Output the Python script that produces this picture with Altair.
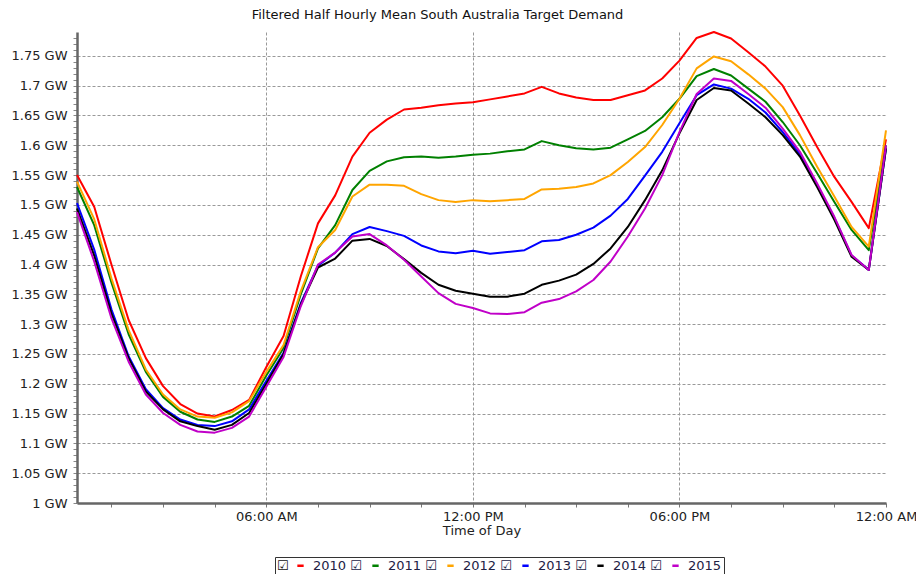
import altair as alt
import pandas as pd

TITLE = "Filtered Half Hourly Mean South Australia Target Demand"
X_TITLE = "Time of Day"
YEARS = ["2010", "2011", "2012", "2013", "2014", "2015"]
COLORS = ["#ff0000", "#008000", "#ffa500", "#0000ff", "#000000", "#c000c8"]

# half-hour slots, hours after midnight (00:30 ... 24:00)
HOURS = [0.5 * i for i in range(1, 49)]

D2010 = [1.550, 1.497, 1.400, 1.307, 1.243, 1.196, 1.166, 1.150, 1.145, 1.156, 1.173, 1.228,
         1.280, 1.380, 1.469, 1.516, 1.581, 1.621, 1.643, 1.660, 1.663, 1.667, 1.670, 1.672,
         1.677, 1.682, 1.687, 1.698, 1.687, 1.680, 1.676, 1.676, 1.684, 1.692, 1.712, 1.742,
         1.780, 1.790, 1.779, 1.756, 1.732, 1.700, 1.650, 1.597, 1.547, 1.505, 1.461, 1.610]
D2011 = [1.530, 1.466, 1.370, 1.283, 1.220, 1.178, 1.153, 1.140, 1.136, 1.145, 1.163, 1.214,
         1.260, 1.350, 1.427, 1.466, 1.525, 1.557, 1.573, 1.580, 1.581, 1.579, 1.581, 1.584,
         1.586, 1.590, 1.593, 1.607, 1.600, 1.595, 1.593, 1.596, 1.610, 1.624, 1.647, 1.678,
         1.716, 1.728, 1.717, 1.695, 1.673, 1.639, 1.600, 1.553, 1.505, 1.458, 1.424, 1.600]
D2012 = [1.539, 1.476, 1.377, 1.290, 1.224, 1.182, 1.157, 1.145, 1.143, 1.152, 1.171, 1.220,
         1.265, 1.355, 1.429, 1.458, 1.514, 1.534, 1.534, 1.532, 1.518, 1.508, 1.505, 1.508,
         1.506, 1.508, 1.510, 1.526, 1.527, 1.530, 1.536, 1.550, 1.572, 1.597, 1.634, 1.678,
         1.729, 1.749, 1.741, 1.719, 1.695, 1.664, 1.617, 1.564, 1.514, 1.463, 1.430, 1.625]
D2013 = [1.503, 1.425, 1.325, 1.246, 1.191, 1.159, 1.140, 1.131, 1.129, 1.137, 1.157, 1.205,
         1.252, 1.335, 1.398, 1.420, 1.451, 1.463, 1.456, 1.448, 1.432, 1.422, 1.419, 1.423,
         1.418, 1.421, 1.424, 1.439, 1.441, 1.450, 1.462, 1.482, 1.510, 1.549, 1.589, 1.637,
         1.684, 1.702, 1.695, 1.678, 1.655, 1.622, 1.585, 1.533, 1.478, 1.415, 1.391, 1.595]
D2014 = [1.494, 1.415, 1.318, 1.243, 1.187, 1.157, 1.137, 1.129, 1.123, 1.131, 1.151, 1.200,
         1.250, 1.333, 1.395, 1.410, 1.440, 1.443, 1.431, 1.409, 1.386, 1.366, 1.356, 1.351,
         1.346, 1.346, 1.351, 1.366, 1.373, 1.383, 1.401, 1.427, 1.463, 1.508, 1.558, 1.620,
         1.676, 1.696, 1.692, 1.670, 1.647, 1.617, 1.581, 1.530, 1.475, 1.413, 1.391, 1.595]
D2015 = [1.488, 1.405, 1.310, 1.237, 1.182, 1.151, 1.131, 1.120, 1.118, 1.126, 1.145, 1.195,
         1.245, 1.330, 1.400, 1.420, 1.447, 1.451, 1.432, 1.408, 1.380, 1.352, 1.334, 1.327,
         1.318, 1.317, 1.320, 1.336, 1.342, 1.355, 1.374, 1.405, 1.447, 1.494, 1.550, 1.622,
         1.686, 1.712, 1.708, 1.686, 1.663, 1.628, 1.589, 1.536, 1.480, 1.416, 1.391, 1.600]
SERIES = [D2010, D2011, D2012, D2013, D2014, D2015]

X_TICKS = [1.5 * i for i in range(1, 17)]          # every 1.5 h, labelled every 6 h
X_LABELS = {6: "06:00 AM", 12: "12:00 PM", 18: "06:00 PM", 24: "12:00 AM"}
Y_TICKS = [round(1 + 0.01 * i, 2) for i in range(0, 79)]  # minor every 0.01, major every 0.05

rows = []
for yr, vals in zip(YEARS, SERIES):
    for h, v in zip(HOURS, vals):
        rows.append({"hour": h, "demand": v, "year": yr})
df = pd.DataFrame(rows)

FONT = "DejaVu Sans"
x_label_expr = " : ".join(f"datum.value == {k} ? '{v}'" for k, v in X_LABELS.items()) + " : ''"
y_major = "abs(datum.value * 20 - round(datum.value * 20)) < 0.000001"
y_label_expr = f"{y_major} ? format(datum.value, '.2~f') + ' GW' : ''"
x_grid_test = "datum.value % 6 == 0 && datum.value < 24"

x_axis = alt.Axis(
    values=X_TICKS, labelExpr=x_label_expr, title=X_TITLE,
    grid=True, gridColor="#999999", gridDash=[3, 2], gridWidth=1,
    gridOpacity={"condition": {"test": x_grid_test, "value": 1}, "value": 0},
    tickSize=4, tickColor="#777777", domainColor="#666666", domainWidth=2.5,
    labelFont=FONT, labelFontSize=13, labelColor="#222222", labelPadding=3,
    labelOverlap=False, labelFlush=False,
    titleFont=FONT, titleFontSize=13, titleFontWeight="normal", titleColor="#222222",
    titlePadding=1,
)
y_axis = alt.Axis(
    values=Y_TICKS, labelExpr=y_label_expr, title=None,
    grid=True, gridColor="#999999", gridDash=[3, 2], gridWidth=1,
    gridOpacity={"condition": {"test": y_major, "value": 1}, "value": 0},
    tickSize=4, tickColor="#888888", domainColor="#666666", domainWidth=2.5,
    labelFont=FONT, labelFontSize=13, labelColor="#222222", labelPadding=6,
    labelOverlap=False, labelFlush=False,
)

legend = alt.Legend(
    orient="none", legendX=198, legendY=525, direction="horizontal", columns=6,
    title="\u2611", titleOrient="left", titleFont=FONT, titleFontSize=13,
    titleFontWeight="normal", titleColor="#111111", titlePadding=5,
    labelExpr="datum.label == '2015' ? datum.label : datum.label + ' \u2611'",
    labelFont=FONT, labelFontSize=13, labelColor="#222244", labelOffset=6,
    symbolType="stroke", symbolSize=40, symbolStrokeWidth=2.5,
    columnPadding=5, strokeColor="#333333", fillColor="white", padding=2,
)

chart = alt.Chart(df).mark_line(strokeWidth=2, strokeJoin="round").encode(
    x=alt.X("hour:Q", scale=alt.Scale(domain=[0.5, 24], nice=False, zero=False), axis=x_axis),
    y=alt.Y("demand:Q", scale=alt.Scale(domain=[1, 1.79], nice=False, zero=False), axis=y_axis),
    color=alt.Color("year:N", scale=alt.Scale(domain=YEARS, range=COLORS), legend=legend),
).properties(
    width=809, height=471,
    title=alt.TitleParams(TITLE, font=FONT, fontSize=13, fontWeight="normal", color="#111111",
                          anchor="middle", frame="group", dx=-44, offset=9),
    padding={"left": 69, "top": 24, "right": 30, "bottom": 71},
    autosize=alt.AutoSizeParams(type="none"),
).configure_view(stroke=None)

chart.save("out.html", embed_options={"renderer": "svg", "actions": False})
